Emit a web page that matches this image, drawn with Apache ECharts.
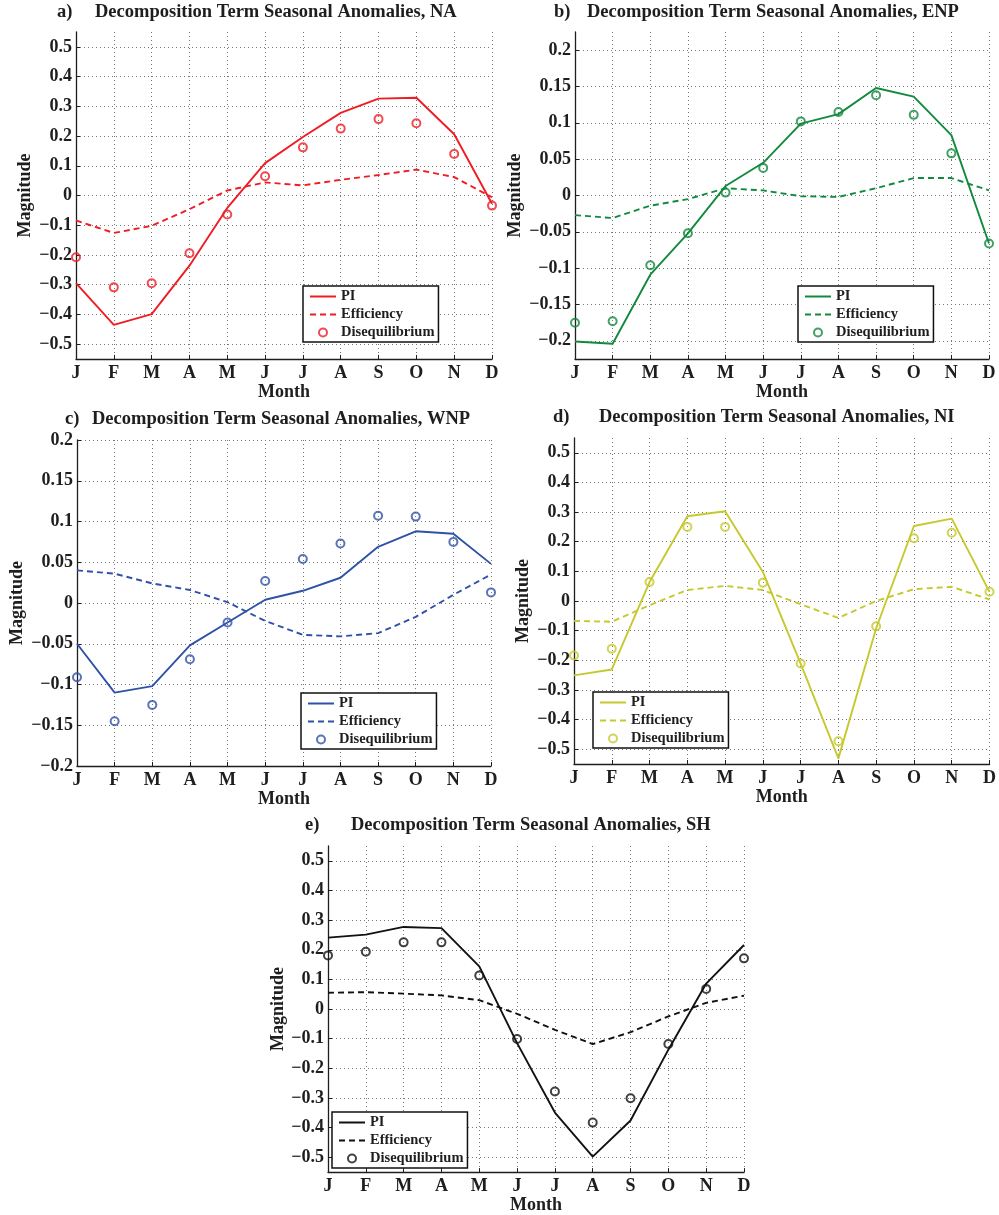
<!DOCTYPE html>
<html>
<head>
<meta charset="utf-8">
<script src="https://cdn.jsdelivr.net/npm/echarts@6/dist/echarts.min.js"></script>
<style>
  html, body { margin: 0; padding: 0; background: #fff; }
  #chart { width: 999px; height: 1215px; }
</style>
</head>
<body>
<div id="chart"></div>
<script>
// Month initials along every x axis
const months = ['J', 'F', 'M', 'A', 'M', 'J', 'J', 'A', 'S', 'O', 'N', 'D'];

// North Atlantic
const naPI  = [-0.295, -0.435, -0.399, -0.236, -0.042, 0.109, 0.197, 0.278, 0.326, 0.329, 0.206, -0.028];
const naEff = [-0.084, -0.126, -0.102, -0.046, 0.017, 0.044, 0.034, 0.053, 0.069, 0.087, 0.062, -0.006];
const naDis = [-0.208, -0.309, -0.295, -0.194, -0.064, 0.065, 0.162, 0.225, 0.257, 0.243, 0.140, -0.034];

// Eastern North Pacific
const enpPI  = [-0.201, -0.204, -0.109, -0.052, 0.013, 0.045, 0.099, 0.112, 0.148, 0.136, 0.083, -0.066];
const enpEff = [-0.027, -0.031, -0.014, -0.005, 0.010, 0.007, -0.001, -0.002, 0.010, 0.024, 0.024, 0.007];
const enpDis = [-0.175, -0.173, -0.096, -0.052, 0.004, 0.038, 0.102, 0.115, 0.138, 0.111, 0.058, -0.066];

// Western North Pacific
const wnpPI  = [-0.050, -0.110, -0.102, -0.052, -0.024, 0.004, 0.015, 0.031, 0.069, 0.088, 0.085, 0.048];
const wnpEff = [0.040, 0.036, 0.024, 0.016, 0.001, -0.022, -0.039, -0.041, -0.037, -0.017, 0.010, 0.035];
const wnpDis = [-0.091, -0.145, -0.125, -0.069, -0.024, 0.027, 0.054, 0.073, 0.107, 0.106, 0.075, 0.013];

// North Indian
const niPI  = [-0.251, -0.231, 0.064, 0.286, 0.303, 0.098, -0.211, -0.531, -0.092, 0.253, 0.278, 0.031];
const niEff = [-0.067, -0.070, -0.014, 0.037, 0.051, 0.037, -0.011, -0.057, 0.000, 0.040, 0.048, 0.005];
const niDis = [-0.184, -0.161, 0.064, 0.250, 0.250, 0.062, -0.211, -0.473, -0.085, 0.212, 0.230, 0.031];

// Southern Hemisphere
const shPI  = [0.241, 0.251, 0.277, 0.273, 0.144, -0.115, -0.349, -0.498, -0.376, -0.137, 0.086, 0.216];
const shEff = [0.055, 0.057, 0.052, 0.046, 0.030, -0.016, -0.070, -0.118, -0.078, -0.025, 0.021, 0.045];
const shDis = [0.181, 0.193, 0.225, 0.225, 0.113, -0.101, -0.278, -0.383, -0.301, -0.118, 0.068, 0.171];

// y tick values
const ticksWide  = [-0.5, -0.4, -0.3, -0.2, -0.1, 0, 0.1, 0.2, 0.3, 0.4, 0.5];
const ticksNarrow = [-0.2, -0.15, -0.1, -0.05, 0, 0.05, 0.1, 0.15, 0.2];

const FONT = "'Liberation Serif', 'DejaVu Serif', serif";
const INK = '#1e1e1e';

const panels = [
  { tag: 'a)', region: 'NA', color: '#ee1d24', pi: naPI, eff: naEff, dis: naDis,
    yMin: -0.55, yMax: 0.55, ticks: ticksWide,
    grid: { left: 76, top: 32, width: 416, height: 327 },
    titleTop: 3, tagLeft: 57, titleLeft: 95, legend: { left: 303, top: 286 }, nameGap: 42 },
  { tag: 'b)', region: 'ENP', color: '#128a3d', pi: enpPI, eff: enpEff, dis: enpDis,
    yMin: -0.225, yMax: 0.225, ticks: ticksNarrow,
    grid: { left: 575, top: 32, width: 414, height: 327 },
    titleTop: 3, tagLeft: 554, titleLeft: 587, legend: { left: 798, top: 286 }, nameGap: 51 },
  { tag: 'c)', region: 'WNP', color: '#2f51a8', pi: wnpPI, eff: wnpEff, dis: wnpDis,
    yMin: -0.2, yMax: 0.2, ticks: ticksNarrow,
    grid: { left: 77, top: 440, width: 414, height: 326 },
    titleTop: 410, tagLeft: 65, titleLeft: 92, legend: { left: 301, top: 693 }, nameGap: 51 },
  { tag: 'd)', region: 'NI', color: '#c6c92e', pi: niPI, eff: niEff, dis: niDis,
    yMin: -0.55, yMax: 0.55, ticks: ticksWide,
    grid: { left: 574, top: 438, width: 417, height: 326 },
    titleTop: 408, tagLeft: 553, titleLeft: 599, legend: { left: 593, top: 692 }, nameGap: 42 },
  { tag: 'e)', region: 'SH', color: '#111111', pi: shPI, eff: shEff, dis: shDis,
    yMin: -0.55, yMax: 0.55, ticks: ticksWide,
    grid: { left: 328, top: 846, width: 416, height: 327 },
    titleTop: 816, tagLeft: 305, titleLeft: 351, legend: { left: 332, top: 1112 }, nameGap: 41 }
];

const textBold = (size) => ({ fontFamily: FONT, fontWeight: 'bold', fontSize: size, color: INK });
const gridDots = { show: true, lineStyle: { type: [1, 3], color: '#777', width: 1 } };
const fmtY = (v) => String(+(+v).toFixed(3)).replace('-', '\u2212');
const pairs = (arr) => arr.map((v, i) => [i, v]);

const option = {
  animation: false,
  backgroundColor: '#fff',
  title: [],
  legend: [],
  grid: [],
  xAxis: [],
  yAxis: [],
  series: []
};

panels.forEach((p, i) => {
  option.title.push(
    { text: p.tag, left: p.tagLeft, top: p.titleTop, padding: 0, textStyle: textBold(18.5) },
    { text: 'Decomposition Term Seasonal Anomalies, ' + p.region, left: p.titleLeft, top: p.titleTop, padding: 0, textStyle: textBold(18.5) }
  );

  option.grid.push(Object.assign({ containLabel: false }, p.grid));

  option.xAxis.push({
    gridIndex: i, type: 'value', min: 0, max: 11, interval: 1,
    axisLine: { onZero: false, lineStyle: { color: INK, width: 1.3 } },
    axisTick: { inside: true, length: 4, lineStyle: { color: INK, width: 1 } },
    axisLabel: Object.assign({ formatter: (v) => months[v], margin: 5 }, textBold(18)),
    splitLine: gridDots,
    name: 'Month', nameLocation: 'middle', nameGap: 21, nameTextStyle: textBold(18)
  });

  option.yAxis.push({
    gridIndex: i, type: 'value', min: p.yMin, max: p.yMax,
    axisLine: { show: true, onZero: false, lineStyle: { color: INK, width: 1.3 } },
    axisTick: { show: true, inside: true, length: 4, customValues: p.ticks, lineStyle: { color: INK, width: 1 } },
    axisLabel: Object.assign({ customValues: p.ticks, formatter: fmtY, margin: 4 }, textBold(18)),
    splitLine: gridDots,
    name: 'Magnitude', nameLocation: 'middle', nameGap: p.nameGap, nameTextStyle: textBold(18)
  });

  const nPI = p.region + ' PI', nEff = p.region + ' Efficiency', nDis = p.region + ' Disequilibrium';

  option.series.push(
    { type: 'line', name: nPI, xAxisIndex: i, yAxisIndex: i, data: pairs(p.pi), symbol: 'none',
      lineStyle: { color: p.color, width: 1.9 }, itemStyle: { color: p.color }, z: 2 },
    { type: 'line', name: nEff, xAxisIndex: i, yAxisIndex: i, data: pairs(p.eff), symbol: 'none',
      lineStyle: { color: p.color, width: 1.9, type: [6, 4] }, itemStyle: { color: p.color }, z: 2 },
    { type: 'scatter', name: nDis, xAxisIndex: i, yAxisIndex: i, data: pairs(p.dis), symbol: 'circle', symbolSize: 8,
      itemStyle: { color: 'rgba(0,0,0,0)', borderColor: p.color, borderWidth: 2 }, z: 3 }
  );

  // line entries show only their stroke, no marker
  const bareLine = { opacity: 0, color: 'rgba(0,0,0,0)', borderWidth: 0 };
  option.legend.push({
    orient: 'vertical', left: p.legend.left, top: p.legend.top,
    itemWidth: 26, itemHeight: 8, itemGap: 3, padding: [3, 4, 2, 6],
    borderColor: '#111', borderWidth: 1.5, backgroundColor: '#fff',
    selectedMode: false,
    textStyle: textBold(14.5),
    formatter: (name) => name.slice(p.region.length + 1),
    data: [
      { name: nPI, itemStyle: bareLine },
      { name: nEff, itemStyle: bareLine },
      { name: nDis }
    ]
  });
});

const chart = echarts.init(document.getElementById('chart'), null, { renderer: 'canvas' });
chart.setOption(option);
</script>
</body>
</html>
